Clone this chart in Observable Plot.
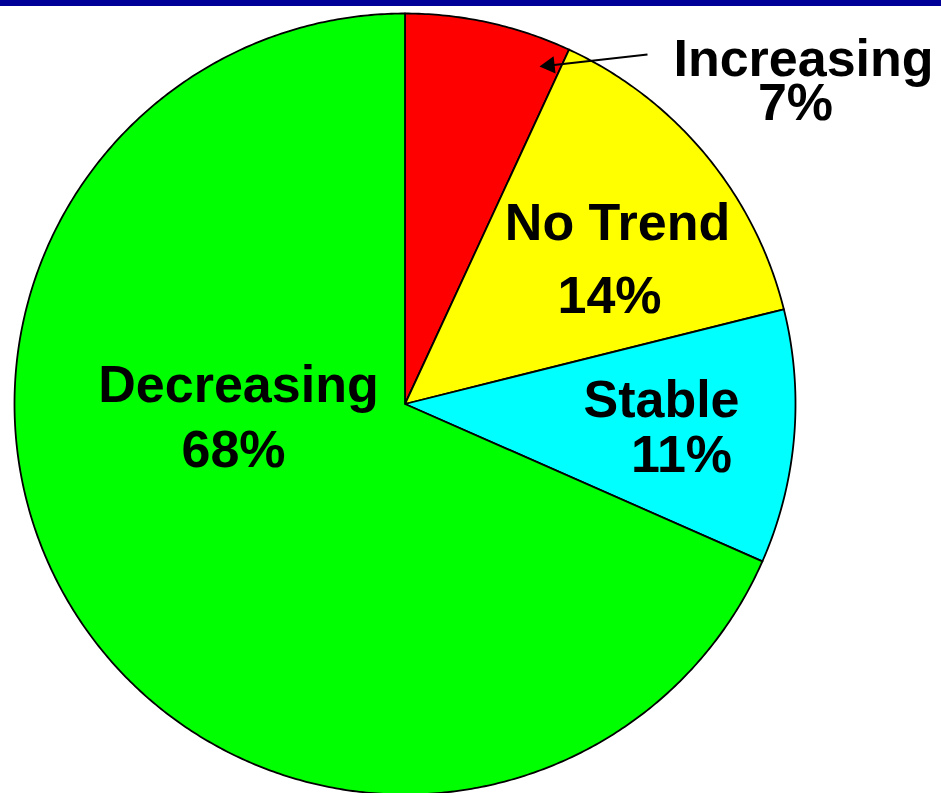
<!DOCTYPE html>
<html><head><meta charset="utf-8">
<script src="https://cdn.jsdelivr.net/npm/d3@7"></script>
<script src="https://cdn.jsdelivr.net/npm/@observablehq/plot@0.6"></script>
<style>
body{margin:0;background:#fff;overflow:hidden}
#chart{position:absolute;left:0;top:0}
#band{position:absolute;left:0;top:0;width:941px;height:6px;background:#000099}
</style>
</head><body><div id="chart"></div><div id="band"></div>
<script>
// ---- data ----
const categories = ["Increasing", "No Trend", "Stable", "Decreasing"];
const shares = [6.9, 14.2, 10.5, 68.4];
const pctLabels = ["7%", "14%", "11%", "68%"];
const colors = ["#ff0000", "#ffff00", "#00ffff", "#00ff00"];

// ---- layout (pixels) ----
const W = 941, H = 793, cx = 404.5, cy = 403.5, R = 390.5;
const toX = px => (px - cx) / R, toY = py => (cy - py) / R;
// label baselines [nameX, nameY, pctX, pctY]
const labelPos = {
  "Increasing": [803, 75, 795, 119],
  "No Trend":   [617, 239, 609, 312],
  "Stable":     [661, 416, 681, 471],
  "Decreasing": [238, 401, 233, 466]
};
const arrowFrom = [647, 54], arrowTip = [539, 66];

// ---- slice polygons ----
const total = d3.sum(shares);
const slicePts = [];
let acc = 0;
categories.forEach((c, i) => {
  const a0 = acc / total * 2 * Math.PI;
  acc += shares[i];
  const a1 = acc / total * 2 * Math.PI;
  slicePts.push({cat: c, x: 0, y: 0});
  const n = Math.max(2, Math.ceil((a1 - a0) / (Math.PI / 360)));
  for (let k = 0; k <= n; k++) {
    const a = a0 + (a1 - a0) * k / n;
    slicePts.push({cat: c, x: Math.sin(a), y: Math.cos(a)});
  }
  slicePts.push({cat: c, x: 0, y: 0});
});

const texts = [];
categories.forEach((c, i) => {
  const p = labelPos[c];
  texts.push({t: c, x: toX(p[0]), y: toY(p[1])});
  texts.push({t: pctLabels[i], x: toX(p[2]), y: toY(p[3])});
});

// arrow head
const dxA = arrowTip[0] - arrowFrom[0], dyA = arrowTip[1] - arrowFrom[1];
const lenA = Math.hypot(dxA, dyA), ux = dxA / lenA, uy = dyA / lenA;
const headR = 6.5;
const side = Math.sqrt(4 * Math.PI * headR * headR / Math.sqrt(3));
const headOff = (2/3) * side * Math.sqrt(3) / 2; // centroid->tip distance
const headC = [arrowTip[0] - ux * headOff, arrowTip[1] - uy * headOff];
const rot = Math.atan2(ux, -uy) * 180 / Math.PI;
const arrow = [{x1: toX(arrowFrom[0]), y1: toY(arrowFrom[1]), x2: toX(headC[0]), y2: toY(headC[1]), hx: toX(headC[0]), hy: toY(headC[1])}];

const font = "'Liberation Sans', Arial, Helvetica, sans-serif";

const chart = Plot.plot({
  width: W, height: H,
  marginTop: 0, marginRight: 0, marginBottom: 0, marginLeft: 0,
  x: {domain: [toX(0), toX(W)], axis: null},
  y: {domain: [toY(H), toY(0)], axis: null},
  color: {domain: categories, range: colors},
  style: {background: "white", overflow: "visible"},
  marks: [
    Plot.line(slicePts, {x: "x", y: "y", z: "cat", fill: "cat", stroke: "black", strokeWidth: 1.8, strokeLinejoin: "round", curve: "linear"}),
    Plot.link(arrow, {x1: "x1", y1: "y1", x2: "x2", y2: "y2", stroke: "black", strokeWidth: 2}),
    Plot.dot(arrow, {x: "hx", y: "hy", symbol: "triangle", r: headR, fill: "black", stroke: "none", rotate: rot}),
    Plot.text(texts, {x: "x", y: "y", text: "t", textAnchor: "middle", lineAnchor: "bottom", fontSize: 52, fontWeight: "bold", fontFamily: font, fill: "black"})
  ]
});
document.getElementById("chart").appendChild(chart);
</script>
</body></html>
